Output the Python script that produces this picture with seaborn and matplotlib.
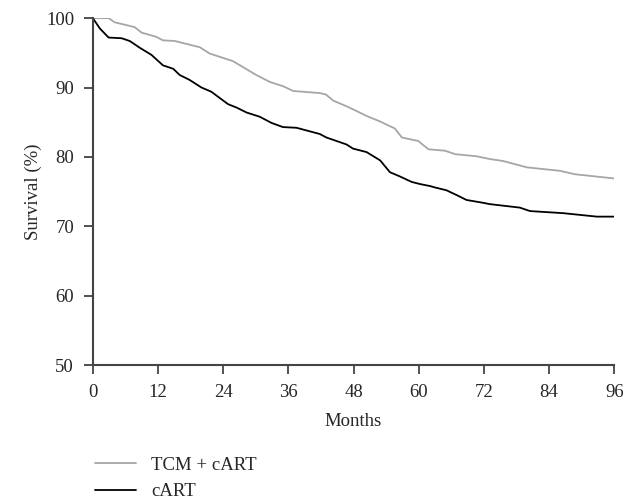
import pandas as pd
import matplotlib.pyplot as plt
import seaborn as sns

# survival curves (months, %)
tcm_months = [0, 2.9, 4.0, 7.7, 9.0, 11.7, 12.9, 15.1, 19.7, 21.5, 25.8, 30.1, 32.6,
              35.0, 36.9, 41.8, 42.9, 44.3, 46.7, 48.6, 50.4, 52.9, 55.6, 56.9, 59.9,
              61.8, 64.8, 66.7, 70.6, 73.1, 75.6, 79.9, 86.0, 88.8, 96.0]
tcm_surv = [100, 100, 99.4, 98.7, 97.9, 97.3, 96.8, 96.7, 95.8, 94.9, 93.8, 91.8, 90.8,
            90.2, 89.5, 89.2, 89.0, 88.1, 87.3, 86.6, 85.9, 85.1, 84.1, 82.8, 82.3,
            81.1, 80.9, 80.4, 80.1, 79.7, 79.4, 78.5, 78.0, 77.5, 76.9]

cart_months = [0, 1.3, 2.9, 5.3, 6.8, 8.7, 10.8, 12.9, 14.8, 16.0, 17.8, 20.0, 21.8,
               24.9, 26.5, 28.3, 30.7, 32.9, 35.0, 37.5, 41.8, 43.0, 46.7, 47.9, 50.4,
               52.9, 54.7, 56.5, 58.7, 60.2, 62.1, 63.0, 65.1, 67.0, 68.8, 71.8, 73.1,
               78.6, 80.5, 86.6, 92.8, 96.0]
cart_surv = [100, 98.5, 97.2, 97.1, 96.7, 95.7, 94.7, 93.2, 92.7, 91.8, 91.1, 90.0, 89.4,
             87.6, 87.1, 86.4, 85.8, 84.9, 84.3, 84.2, 83.3, 82.8, 81.8, 81.2, 80.7,
             79.5, 77.8, 77.2, 76.4, 76.1, 75.8, 75.6, 75.2, 74.5, 73.8, 73.4, 73.2,
             72.7, 72.2, 71.9, 71.4, 71.4]

groups = ['TCM + cART', 'cART']
colors = {'TCM + cART': '#a6a6a6', 'cART': '#000000'}

df = pd.concat([
    pd.DataFrame({'month': tcm_months, 'surv': tcm_surv, 'group': groups[0]}),
    pd.DataFrame({'month': cart_months, 'surv': cart_surv, 'group': groups[1]}),
])

sns.set_style('ticks')
plt.rcParams['font.family'] = ['Liberation Serif', 'DejaVu Serif']
plt.rcParams['font.size'] = 13

fig = plt.figure(figsize=(6.23, 5.03), dpi=100)
ax = fig.add_axes([0.149, 0.274, 0.837, 0.69])

sns.lineplot(data=df, x='month', y='surv', hue='group', hue_order=groups,
             palette=colors, linewidth=1.3, ax=ax, legend=False, estimator=None,
             sort=False)

ax.set_xlim(0, 96)
ax.set_ylim(50, 100)
ax.set_xticks(range(0, 97, 12))
ax.set_yticks(range(50, 101, 10))
ax.set_xlabel('Months', fontsize=13.5, labelpad=9)
ax.set_ylabel('Survival (%)', fontsize=13.5, labelpad=3)
ax.tick_params(axis='both', labelsize=13.5, length=6.5, width=1.3, pad=7,
               color='#444444')
sns.despine(ax=ax)
for s in ['left', 'bottom']:
    ax.spines[s].set_color('#444444')
    ax.spines[s].set_linewidth(1.5)

handles = [plt.Line2D([], [], color=colors[g], linewidth=1.3) for g in groups]
fig.legend(handles, groups, loc='upper left', bbox_to_anchor=(0.125, 0.126),
           frameon=False, fontsize=13.5, handlelength=2.2, labelspacing=0.5)

fig.savefig('out.png', dpi=100)
